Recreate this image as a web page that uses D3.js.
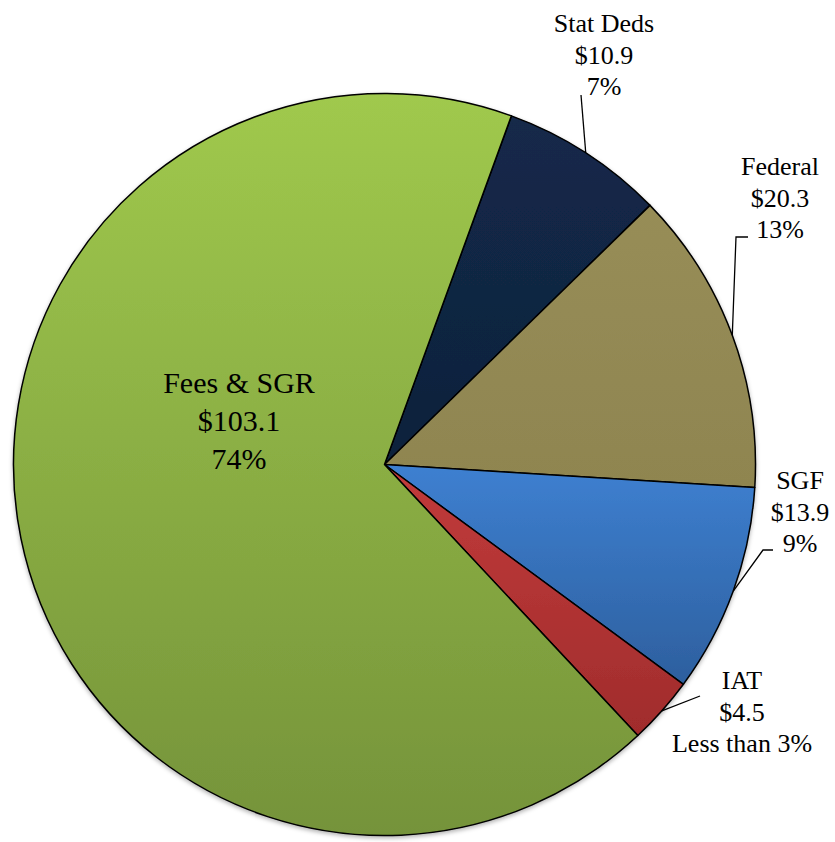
<!DOCTYPE html>
<html>
<head>
<meta charset="utf-8">
<script src="https://cdn.jsdelivr.net/npm/d3@7"></script>
<style>
  html, body { margin: 0; padding: 0; background: #fff; }
  svg { display: block; }
  text { font-family: "Liberation Serif", "Times New Roman", serif; fill: #000; }
</style>
</head>
<body>
<svg id="chart" width="835" height="842"></svg>
<script>
// Funding sources, listed clockwise from the top of the pie
const categories = ["Stat Deds", "Federal", "SGF", "IAT", "Fees & SGR"];
const amounts = [10.9, 20.3, 13.9, 4.5, 103.1];           // $ millions
const shareLabels = ["7%", "13%", "9%", "Less than 3%", "74%"];

// Fill colours: [top, bottom] of each slice's vertical gradient
const fills = {
  "Stat Deds": ["#13294a", "#0f223b"],
  "Federal": ["#978d57", "#8f8550"],
  "SGF": ["#3e80d1", "#2d5f9e"],
  "IAT": ["#c23b3b", "#a02c2c"],
  "Fees & SGR": ["#a0c94d", "#75933a"]
};

const W = 835, H = 842;
const cx = 384.5, cy = 464.5, R = 371;
const startDeg = 20;

const svg = d3.select("#chart");
const defs = svg.append("defs");

const shadow = defs.append("filter").attr("id", "pieShadow")
  .attr("x", "-5%").attr("y", "-5%").attr("width", "110%").attr("height", "110%");
shadow.append("feDropShadow").attr("dx", 0).attr("dy", 2)
  .attr("stdDeviation", 2).attr("flood-color", "#000").attr("flood-opacity", 0.3);

categories.forEach((c, i) => {
  const g = defs.append("linearGradient").attr("id", "grad" + i)
    .attr("x1", 0).attr("y1", 0).attr("x2", 0).attr("y2", 1);
  g.append("stop").attr("offset", "0%").attr("stop-color", fills[c][0]);
  g.append("stop").attr("offset", "100%").attr("stop-color", fills[c][1]);
});

const data = categories.map((c, i) => ({ name: c, value: amounts[i], share: shareLabels[i], idx: i }));

const startA = startDeg * Math.PI / 180;
const pie = d3.pie().value(d => d.value).sort(null)
  .startAngle(startA).endAngle(startA + 2 * Math.PI);
const arcs = pie(data);

const arc = d3.arc().innerRadius(0).outerRadius(R);
const rim = d3.arc().innerRadius(R).outerRadius(R);

const g = svg.append("g").attr("transform", `translate(${cx},${cy})`);

g.append("g").attr("filter", "url(#pieShadow)")
  .selectAll("path").data(arcs).join("path")
  .attr("d", arc)
  .attr("fill", d => `url(#grad${d.data.idx})`)
  .attr("stroke", "#000")
  .attr("stroke-width", 1.5)
  .attr("stroke-linejoin", "round");

const fmt = v => "$" + d3.format(".1f")(v);

// Label blocks: centre x, first baseline, font size, line step,
// and (for outside labels) the leader route toward the rim
const layout = {
  "Stat Deds": { x: 604, y: 32, size: 26, step: 31.5, route: [[581, 95]] },
  "Federal": { x: 780, y: 175, size: 26, step: 31.5, route: [[748, 237], [736, 237]] },
  "SGF": { x: 800, y: 489, size: 26, step: 31.5, route: [[773, 550], [763, 550]] },
  "IAT": { x: 742, y: 689, size: 26, step: 31.5, route: [[700, 696]] },
  "Fees & SGR": { x: 239, y: 393, size: 30, step: 38 }
};

const labels = svg.append("g");
const leaders = svg.append("g");

arcs.forEach(d => {
  const name = d.data.name;
  const lines = [name, fmt(d.data.value), d.data.share];
  const o = layout[name];
  const t = labels.append("text").attr("text-anchor", "middle").attr("font-size", o.size);
  lines.forEach((s, k) => t.append("tspan").attr("x", o.x).attr("y", o.y + k * o.step).text(s));
  if (o.route) {
    const [px, py] = rim.centroid(d);
    const pts = o.route.concat([[cx + px, cy + py]]);
    leaders.append("path")
      .attr("d", d3.line()(pts))
      .attr("fill", "none").attr("stroke", "#000").attr("stroke-width", 1.3);
  }
});
</script>
</body>
</html>
